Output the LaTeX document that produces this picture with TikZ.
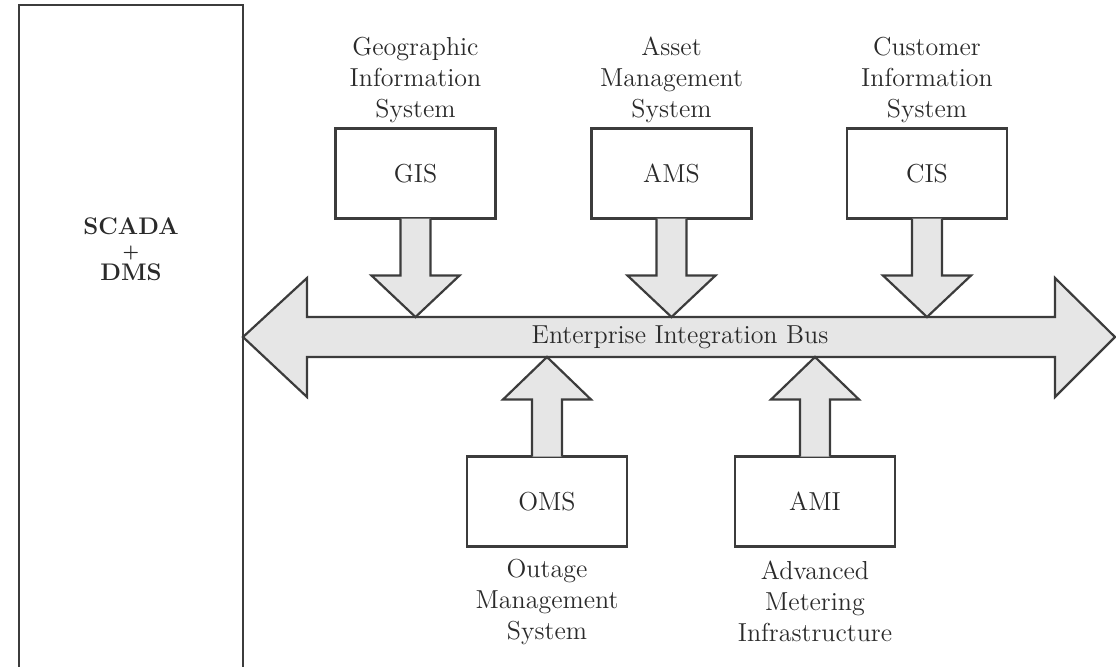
\documentclass[tikz,border=0pt]{standalone}
\usepackage{fontspec}
\usetikzlibrary{calc}
\definecolor{ln}{HTML}{3C3C3C}
\definecolor{fillg}{HTML}{E6E6E6}
\definecolor{txt}{HTML}{2A2A2A}
\tikzset{
  sysbox/.style={draw=ln, line width=1.2pt, fill=white, minimum width=80pt, minimum height=45pt, inner sep=0pt, outer sep=0pt, text=txt, font=\fontsize{13}{15.5}\selectfont},
  blockarrow/.style={draw=ln, line width=1.1pt, fill=fillg, line join=miter},
  lbl/.style={align=center, text=txt, font=\fontsize{13}{15.5}\selectfont, inner sep=0pt},
}
\begin{document}
\begin{tikzpicture}[x=0.5pt, y=-0.5pt]
\useasboundingbox (0,0) rectangle (1116,666);
\begin{scope}
\clip (0,0) rectangle (1116,666);
% SCADA + DMS block
\node[draw=ln, line width=1.2pt, minimum width=112pt, minimum height=350pt, anchor=north west, inner sep=0pt, outer sep=0pt] (scada) at (19,5) {};
\node[align=center, text=txt, font=\fontsize{12}{11.5}\selectfont\bfseries, inner sep=0pt] (scadalbl) at (131,249) {SCADA\\{\fontsize{9}{11.5}\selectfont +}\\DMS};
% bus reference coordinates
\coordinate (bt) at (680,317);
\coordinate (bb) at (680,357);
% Enterprise Integration Bus
\draw[blockarrow] (243,337) -- (307,278) -- (307,317) -- (1055,317) -- (1055,278) -- (1115,337) -- (1055,397) -- (1055,357) -- (307,357) -- (307,397) -- cycle;
\node[lbl] (bus) at (680,337) {Enterprise Integration Bus};
% top boxes
\node[sysbox] (gis) at (415.5,173.5) {GIS};
\node[sysbox] (ams) at (671.5,173.5) {AMS};
\node[sysbox] (cis) at (927,173.5) {CIS};
% bottom boxes
\node[sysbox] (oms) at (547,501.5) {OMS};
\node[sysbox] (ami) at (815,501.5) {AMI};
% down arrows
\foreach \n in {gis,ams,cis}{
  \draw[blockarrow] ($(\n.south)+(-15,0)$) -- ++(0,57) -- ++(-29,0) -- (\n.south |- bt) -- ($(\n.south)+(44,57)$) -- ++(-29,0) -- ($(\n.south)+(15,0)$);
}
% up arrows
\foreach \n in {oms,ami}{
  \draw[blockarrow] ($(\n.north)+(-15,0)$) -- ++(0,-57) -- ++(-29,0) -- (\n.north |- bb) -- ($(\n.north)+(44,-57)$) -- ++(-29,0) -- ($(\n.north)+(15,0)$);
}
% labels
\node[lbl] (gisl) at ($(gis.north)+(0,-49)$) {Geographic\\Information\\System};
\node[lbl] (amsl) at ($(ams.north)+(0,-49)$) {Asset\\Management\\System};
\node[lbl] (cisl) at ($(cis.north)+(0,-49)$) {Customer\\Information\\System};
\node[lbl] (omsl) at ($(oms.south)+(0,55)$) {Outage\\Management\\System};
\node[lbl] (amil) at ($(ami.south)+(0,55)$) {Advanced\\Metering\\Infrastructure};
\end{scope}
\end{tikzpicture}
\end{document}
